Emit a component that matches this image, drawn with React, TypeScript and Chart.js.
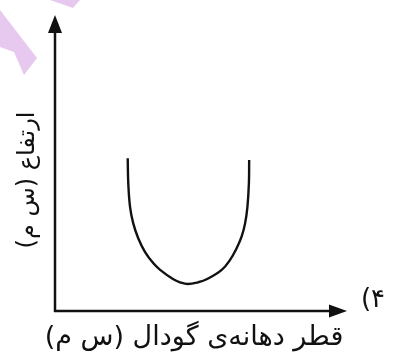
import React, { useEffect, useRef } from "react";
import { Chart, registerables } from "chart.js";

Chart.register(...registerables);

// Curve data (arbitrary units)
const curveX: number[] = [24.9, 25.1, 25.7, 26.8, 28.5, 30.8, 33.7, 36.0, 40.4, 42.8, 45.5, 49.0, 52.1, 57.1, 59.9, 62.2, 63.9, 65.1, 65.9, 66.4, 66.5];
const curveY: number[] = [51.6, 43.1, 35.2, 29.6, 24.6, 20.0, 16.1, 13.9, 10.8, 9.7, 9.1, 9.7, 10.8, 13.9, 17.2, 21.2, 25.1, 29.6, 35.2, 43.1, 51.0];

const xAxisLabel = "قطر دهانه‌ی گودال (س م)";
const yAxisLabel = "ارتفاع (س م)";
const optionLabel = "۴)";

const FONT = '"DejaVu Sans", sans-serif';

const axesPlugin = {
  id: "arrowAxes",
  afterDraw(chart: any) {
    const { ctx, chartArea } = chart;
    const { left, right, top, bottom } = chartArea;
    ctx.save();
    ctx.strokeStyle = "#111";
    ctx.fillStyle = "#111";
    ctx.lineWidth = 2.5;
    ctx.lineCap = "butt";
    // y axis
    ctx.beginPath();
    ctx.moveTo(left, bottom + 1);
    ctx.lineTo(left, top + 14);
    ctx.stroke();
    // x axis
    ctx.beginPath();
    ctx.moveTo(left - 1, bottom);
    ctx.lineTo(right - 14, bottom);
    ctx.stroke();
    // y arrow head
    ctx.beginPath();
    ctx.moveTo(left, top);
    ctx.lineTo(left - 7, top + 18);
    ctx.lineTo(left + 7, top + 18);
    ctx.closePath();
    ctx.fill();
    // x arrow head
    ctx.beginPath();
    ctx.moveTo(right, bottom);
    ctx.lineTo(right - 18, bottom - 6.5);
    ctx.lineTo(right - 18, bottom + 6.5);
    ctx.closePath();
    ctx.fill();

    // labels
    ctx.direction = "rtl";
    ctx.textAlign = "center";
    ctx.textBaseline = "middle";
    ctx.font = `27px ${FONT}`;
    ctx.fillText(xAxisLabel, 194, 338);

    ctx.save();
    ctx.translate(28, 180);
    ctx.rotate(-Math.PI / 2);
    ctx.font = `24px ${FONT}`;
    ctx.fillText(yAxisLabel, 0, 0);
    ctx.restore();

    ctx.font = `26px ${FONT}`;
    ctx.fillText(optionLabel, 373, 300);
    ctx.restore();
  },
};

const watermarkPlugin = {
  id: "watermark",
  beforeDraw(chart: any) {
    const { ctx, width, height } = chart;
    ctx.save();
    ctx.fillStyle = "#ffffff";
    ctx.fillRect(0, 0, width, height);
    ctx.fillStyle = "#e7c8ee";
    ctx.beginPath();
    ctx.moveTo(0, 10);
    ctx.lineTo(37, 58);
    ctx.lineTo(24, 75);
    ctx.lineTo(14, 52);
    ctx.lineTo(0, 47);
    ctx.closePath();
    ctx.fill();
    ctx.beginPath();
    ctx.moveTo(50, 0);
    ctx.lineTo(80, 0);
    ctx.lineTo(73, 8);
    ctx.closePath();
    ctx.fill();
    ctx.restore();
  },
};

export default function App() {
  const canvasRef = useRef<HTMLCanvasElement | null>(null);

  useEffect(() => {
    document.body.style.margin = "0";
    const canvas = canvasRef.current;
    if (!canvas) return;
    const data = curveX.map((x, i) => ({ x, y: curveY[i] }));
    const chart = new Chart(canvas, {
      type: "line",
      data: {
        datasets: [
          {
            data,
            borderColor: "#111",
            borderWidth: 2.4,
            pointRadius: 0,
            tension: 0.4,
            fill: false,
          },
        ],
      },
      options: {
        animation: false,
        responsive: false,
        maintainAspectRatio: false,
        layout: { padding: { left: 55, right: 51, top: 15, bottom: 49 } },
        plugins: { legend: { display: false }, tooltip: { enabled: false } },
        scales: {
          x: { type: "linear", min: 0, max: 100, display: false },
          y: { type: "linear", min: 0, max: 100, display: false },
        },
      },
      plugins: [watermarkPlugin, axesPlugin],
    });
    return () => chart.destroy();
  }, []);

  return (
    <div style={{ position: "fixed", left: 0, top: 0, width: 398, height: 360 }}>
      <canvas ref={canvasRef} width={398} height={360} />
    </div>
  );
}
